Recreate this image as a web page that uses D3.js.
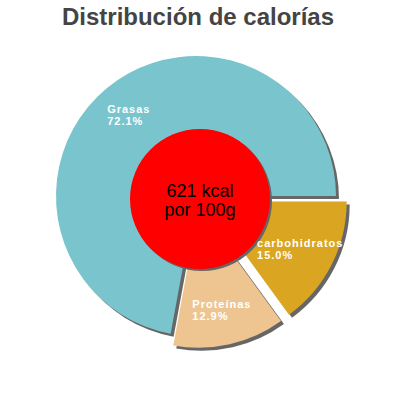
<!DOCTYPE html>
<html>
<head>
<meta charset="utf-8">
<script src="https://cdn.jsdelivr.net/npm/d3@7"></script>
<style>
  body { margin: 0; background: #fff; }
  svg { font-family: "Liberation Sans", Arial, sans-serif; }
</style>
</head>
<body>
<div id="chart"></div>
<script>
// calorie split
var categories = ["carbohidratos", "Proteínas", "Grasas"];
var values = [15.0, 12.9, 72.1];
var colors = ["#DAA520", "#EEC591", "#7AC5CD"];
var exploded = [true, true, false];
var title = "Distribución de calorías";
var centerLines = ["621 kcal", "por 100g"];

var width = 400, height = 400;
var cx = 196, cy = 196;
var radius = 140;
var hole = 70;
var pull = 12;

var svg = d3.select("#chart")
    .append("svg")
        .attr("width", width)
        .attr("height", height);

svg.append("text")
    .attr("x", 198)
    .attr("y", 25)
    .attr("text-anchor", "middle")
    .style("font-size", "24px")
    .style("font-weight", "bold")
    .style("fill", "#444")
    .text(title);

var data = categories.map(function(c, i){
    return {name: c, value: values[i], color: colors[i], out: exploded[i]};
});

var pie = d3.pie()
    .value(function(d){ return d.value; })
    .sort(null)
    .startAngle(Math.PI / 2)
    .endAngle(Math.PI / 2 + 2 * Math.PI);

var arcs = pie(data);

var arc = d3.arc().innerRadius(0).outerRadius(radius);
var labelArc = d3.arc().innerRadius(hole).outerRadius(radius);

// shift for the pulled out slices
function shift(d){
    if (!d.data.out) return [0, 0];
    var a = (d.startAngle + d.endAngle) / 2;
    return [pull * Math.sin(a), -pull * Math.cos(a)];
}

var g = svg.append("g")
    .attr("transform", "translate(" + cx + "," + cy + ")");

// shadows first
g.selectAll("path.shadow")
    .data(arcs)
    .enter()
    .append("path")
    .attr("class", "shadow")
    .attr("d", arc)
    .attr("fill", "#666")
    .attr("transform", function(d){
        var s = shift(d);
        return "translate(" + (s[0] + 3) + "," + (s[1] + 3) + ")";
    });

g.selectAll("path.slice")
    .data(arcs)
    .enter()
    .append("path")
    .attr("class", "slice")
    .attr("d", arc)
    .attr("fill", function(d){ return d.data.color; })
    .attr("transform", function(d){
        var s = shift(d);
        return "translate(" + s[0] + "," + s[1] + ")";
    });

// red middle
svg.append("circle")
    .attr("cx", 200 + 2)
    .attr("cy", 199 + 2)
    .attr("r", hole)
    .attr("fill", "#666");
svg.append("circle")
    .attr("cx", 200)
    .attr("cy", 199)
    .attr("r", hole)
    .attr("fill", "#ff0000");

svg.selectAll("text.center")
    .data(centerLines)
    .enter()
    .append("text")
    .attr("class", "center")
    .attr("x", 200)
    .attr("y", function(d, i){ return 197 + i * 19; })
    .attr("text-anchor", "middle")
    .style("font-size", "18px")
    .style("fill", "#000")
    .text(function(d){ return d; });

// labels: block centred on the centroid, lines left aligned
arcs.forEach(function(d){
    var c = labelArc.centroid(d);
    var s = shift(d);
    var x = cx + c[0] + s[0];
    var y = cy + c[1] + s[1];
    var lines = [d.data.name, d.data.value.toFixed(1) + "%"];
    var t = svg.selectAll(null)
        .data(lines)
        .enter()
        .append("text")
        .attr("y", function(l, i){ return y - 2 + i * 12; })
        .style("font-size", "11px")
        .style("font-weight", "bold")
        .style("letter-spacing", "1px")
        .style("fill", "#fff")
        .text(function(l){ return l; });
    var w = d3.max(t.nodes(), function(n){ return n.getComputedTextLength(); });
    t.attr("x", x - w / 2);
});
</script>
</body>
</html>
